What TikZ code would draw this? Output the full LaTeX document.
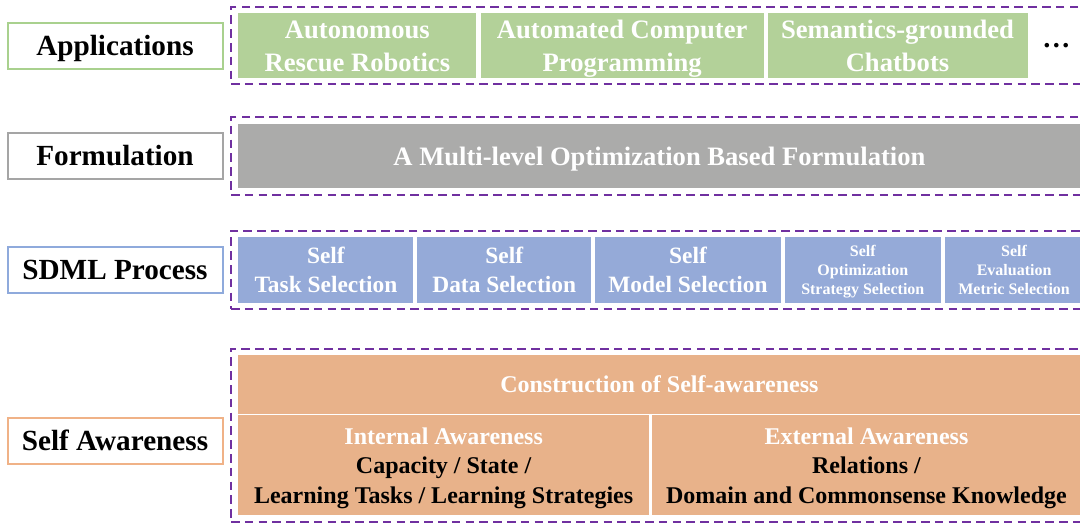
\documentclass[tikz,border=0pt]{standalone}
\usepackage{fontspec}
\setmainfont{Liberation Serif}
\usepackage{tikz}
\usetikzlibrary{positioning, fit, calc}
\definecolor{appgreen}{RGB}{179,209,153}
\definecolor{formgray}{RGB}{171,171,170}
\definecolor{sdmlblue}{RGB}{149,170,216}
\definecolor{awareorange}{RGB}{232,178,138}
\definecolor{lblgreen}{RGB}{169,209,142}
\definecolor{lblgray}{RGB}{165,165,165}
\definecolor{lblblue}{RGB}{143,170,220}
\definecolor{lblorange}{RGB}{240,178,135}
\definecolor{framepurple}{RGB}{112,48,160}
% struts that centre the lines on their capitals
\newcommand{\capstrut}{\rule[-0.25em]{0pt}{1.18em}}
\newcommand{\celltext}[1]{\capstrut#1\capstrut}

\begin{document}
\begin{tikzpicture}[x=0.5pt, y=-0.5pt,
    lbl/.style={draw, line width=1pt, fill=white, minimum width=107.5pt, minimum height=23pt, inner sep=0pt, font=\fontsize{14.6}{17}\selectfont\bfseries},
    appcell/.style={fill=appgreen, text=white, minimum height=32pt, inner sep=0pt, align=center, font=\fontsize{13.3}{16.5}\selectfont\bfseries},
    formcell/.style={fill=formgray, text=white, minimum height=32.2pt, inner sep=0pt, align=center, font=\fontsize{13.3}{16.5}\selectfont\bfseries},
    sdmlcell/.style={fill=sdmlblue, text=white, minimum height=33pt, inner sep=0pt, align=center, font=\fontsize{11.7}{14.3}\selectfont\bfseries},
    sdmlsmall/.style={sdmlcell, font=\fontsize{8}{9.5}\selectfont\bfseries},
    awarecell/.style={fill=awareorange, inner sep=0pt, align=center, font=\fontsize{12}{14.75}\selectfont\bfseries},
    frame/.style={draw=framepurple, line width=1pt, dash pattern=on 4.3pt off 2.6pt, inner xsep=3.5pt, inner ysep=3pt}]
    \useasboundingbox (0,0) rectangle (1080,525);
    \coordinate (rim) at (1092,0);

    % Applications
    \node[lbl, draw=lblgreen] (applbl) at (115,45.5) {\celltext{Applications}};
    \node[appcell, minimum width=119pt, anchor=west] (rescue) at (238,45.5) {\celltext{Autonomous\\Rescue Robotics}};
    \node[appcell, minimum width=141.5pt, right=1.75pt of rescue] (coding) {\celltext{Automated Computer\\Programming}};
    \node[appcell, minimum width=130pt, right=1.5pt of coding] (chatbot) {\celltext{Semantics-grounded\\Chatbots}};
    \node[font=\fontsize{14}{16}\selectfont\bfseries, inner sep=0pt, right=7pt of chatbot] (appdots) {\dots};
    \node[frame, fit=(rescue)(chatbot)(rescue.west -| rim)] (appframe) {};

    % Formulation
    \node[lbl, draw=lblgray] (formlbl) at (115,156) {\celltext{Formulation}};
    \node[formcell, minimum width=421pt, anchor=west] (multilevel) at (238,156) {\celltext{A Multi-level Optimization Based Formulation}};
    \node[frame, fit=(multilevel)(multilevel.west -| rim)] (formframe) {};

    % SDML process
    \node[lbl, draw=lblblue] (sdmllbl) at (115,270) {\celltext{SDML Process}};
    \node[sdmlcell, minimum width=87.5pt, anchor=west] (tasksel) at (238,270) {\celltext{Self\\Task Selection}};
    \node[sdmlcell, minimum width=87pt, right=1.5pt of tasksel] (datasel) {\celltext{Self\\Data Selection}};
    \node[sdmlcell, minimum width=93pt, right=1.5pt of datasel] (modelsel) {\celltext{Self\\Model Selection}};
    \node[sdmlsmall, minimum width=78pt, right=1.5pt of modelsel] (optsel) {\celltext{Self\\Optimization\\Strategy Selection}};
    \node[sdmlsmall, minimum width=69.5pt, right=1.5pt of optsel] (metricsel) {\celltext{Self\\Evaluation\\Metric Selection}};
    \node[frame, fit=(tasksel)(metricsel)(tasksel.west -| rim)] (sdmlframe) {};

    % Self awareness
    \node[lbl, draw=lblorange] (awarelbl) at (115,440.5) {\celltext{Self Awareness}};
    \node[awarecell, text=white, minimum width=421pt, minimum height=29.5pt, anchor=north west] (construct) at (238,354.5) {\celltext{Construction of Self-awareness}};
    \node[awarecell, minimum width=205.25pt, minimum height=50pt, anchor=north west] (internal) at (238,415) {\celltext{\textcolor{white}{Internal Awareness}\\Capacity / State /\\Learning Tasks / Learning Strategies}};
    \node[awarecell, minimum width=214.75pt, minimum height=50pt, right=1pt of internal] (external) {\celltext{\textcolor{white}{External Awareness}\\Relations /\\Domain and Commonsense Knowledge}};
    \node[frame, fit=(construct)(internal)(external)(construct.west -| rim)] (awareframe) {};
\end{tikzpicture}
\end{document}
